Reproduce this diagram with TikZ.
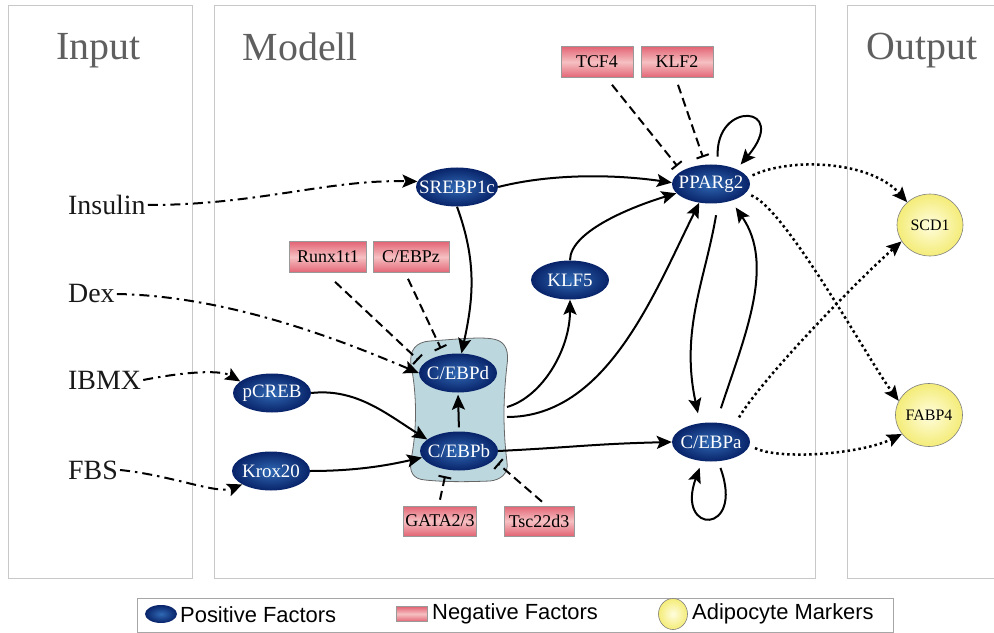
\documentclass[tikz,border=0pt]{standalone}
\usepackage{fontspec}
\setmainfont{Liberation Serif}
\newfontfamily\legfont{Liberation Sans}
\usetikzlibrary{shapes.geometric,arrows.meta}
\definecolor{panelc}{RGB}{200,200,200}
\definecolor{titlegray}{RGB}{95,95,95}
\definecolor{bluein}{RGB}{48,105,180}
\definecolor{blueout}{RGB}{8,35,105}
\definecolor{redout}{RGB}{226,100,116}
\definecolor{redin}{RGB}{246,192,194}
\definecolor{yelin}{RGB}{255,253,222}
\definecolor{yelout}{RGB}{244,236,120}
\definecolor{blobfill}{RGB}{188,215,222}
\begin{document}
\begin{tikzpicture}[x=1bp,y=-1bp,
  panelbox/.style={draw=panelc, line width=1bp},
  titletext/.style={text=titlegray, font=\fontsize{40}{40}\selectfont, anchor=base},
  inlabel/.style={anchor=west, inner sep=2bp, text=black!90, font=\fontsize{28}{28}\selectfont},
  posnode/.style={ellipse, minimum width=78bp, minimum height=39bp, inner xsep=-14bp, inner ysep=-7bp,
    shading=radial, inner color=bluein, outer color=blueout, text=white, font=\fontsize{19}{19}\selectfont},
  negnode/.style={rectangle, minimum width=72bp, minimum height=31bp, inner sep=0,
    top color=redout, bottom color=redout, middle color=redin, draw=gray!80, line width=0.6bp,
    font=\fontsize{18}{18}\selectfont},
  marknode/.style={ellipse, minimum width=66bp, minimum height=62bp, inner sep=0,
    shading=radial, inner color=yelin, outer color=yelout, draw=gray, line width=0.6bp,
    font=\fontsize{16}{16}\selectfont},
  act/.style={line width=2bp, -{Stealth[length=15bp,width=13bp,inset=3bp]}},
  inp/.style={act, dash pattern=on 10bp off 5bp on 2.5bp off 5bp},
  dotarr/.style={act, line width=2.5bp, dash pattern=on 2.5bp off 3bp},
  inh/.style={line width=2bp, dash pattern=on 9bp off 5bp, -{Bar[width=13bp,line width=2bp]}},
  legtext/.style={anchor=west, inner sep=0, font=\legfont\fontsize{22}{22}\selectfont}
]
\useasboundingbox (0,0) rectangle (994,633);
% panels
\draw[panelbox] (8,6) rectangle (192,578);
\draw[panelbox] (214,6) rectangle (815,578);
\draw[panelbox] (847,6) rectangle (1000,578);
\node[titletext] (tin) at (98.5,60) {Input};
\node[titletext] (tmod) at (300.5,61) {Modell};
\node[titletext] (tout) at (922,60) {Output};
% input labels
\node[inlabel] (insulin) at (66,205) {Insulin};
\node[inlabel] (dex) at (66,294) {Dex};
\node[inlabel] (ibmx) at (66,380) {IBMX};
\node[inlabel] (fbs) at (66,470) {FBS};
% blob
\draw[fill=blobfill, draw=gray!80!black, line width=0.8bp]
  (430,341) .. controls (460,339) and (485,336) .. (497,340)
  .. controls (506,343) and (509,352) .. (507,365)
  .. controls (503,400) and (503,430) .. (507,462)
  .. controls (509,474) and (500,480) .. (490,481)
  .. controls (465,482) and (445,482) .. (425,480)
  .. controls (413,479) and (409,472) .. (411,460)
  .. controls (417,430) and (417,395) .. (411,365)
  .. controls (409,350) and (416,342) .. (430,341) -- cycle;
\coordinate (bA) at (507,407);
\coordinate (bB) at (507,417);
% positive factors
\node[posnode, minimum width=82bp] (srebp) at (457,187) {SREBP1c};
\node[posnode] (pparg) at (711,184) {PPARg2};
\node[posnode] (klf5) at (570,280) {KLF5};
\node[posnode] (cebpa) at (711,442) {C/EBPa};
\node[posnode] (cebpd) at (458,373) {C/EBPd};
\node[posnode] (cebpb) at (459,451) {C/EBPb};
\node[posnode] (pcreb) at (272,393) {pCREB};
\node[posnode] (krox) at (271,471) {Krox20};
% markers
\node[marknode] (scd1) at (930,225) {SCD1};
\node[marknode, minimum width=67bp, minimum height=63bp] (fabp4) at (929,415) {FABP4};
% negative factors
\node[negnode] (tcf4) at (597,62) {TCF4};
\node[negnode] (klf2) at (677,62) {KLF2};
\node[negnode, minimum width=77bp] (runx) at (328,257) {Runx1t1};
\node[negnode, minimum width=76bp] (cebpz) at (411,257) {C/EBPz};
\node[negnode, minimum width=73bp, minimum height=30bp] (gata) at (440,521) {GATA2/3};
\node[negnode, minimum width=70bp, minimum height=30bp] (tsc) at (539,521) {Tsc22d3};
% inputs
\draw[inp] (insulin.east) .. controls +(110,0) and +(-90,-2) .. (srebp.172);
\draw[inp] (dex.east) .. controls +(120,2) and +(-60,-25) .. (cebpd.west);
\draw[inp] (ibmx.east) .. controls +(40,-8) and +(-20,-12) .. (pcreb.160);
\draw[inp] (fbs.east) .. controls +(50,5) and +(-25,10) .. (krox.205);
% activations
\draw[act] (pcreb.east) .. controls +(45,-5) and +(-40,-25) .. (cebpb.160);
\draw[act] (krox.east) .. controls +(45,0) and +(-35,8) .. (cebpb.190);
\draw[act] (srebp.south) .. controls +(20,55) and +(12,-55) .. (cebpd.80);
\draw[act] (srebp.east) .. controls +(55,-14) and +(-55,-8) .. (pparg.178);
\draw[act, shorten <=4bp, shorten >=2bp] (cebpb.north) -- (cebpd.south);
\draw[act] (bA) .. controls +(35,-10) and +(0,50) .. (klf5.south);
\draw[act] (bB) .. controls +(100,0) and +(-45,90) .. (pparg.238);
\draw[act] (klf5.north) .. controls +(0,-30) and +(-40,12) .. (pparg.195);
\draw[act] (cebpb.east) .. controls +(80,-4) and +(-80,2) .. (cebpa.west);
\draw[act, shorten <=12bp, shorten >=10bp] (pparg.-70) .. controls +(-13,77) and +(-20,-93) .. (cebpa.120);
\draw[act, shorten <=15bp, shorten >=8bp] (cebpa.75) .. controls +(29,-88) and +(44,64) .. (pparg.-40);
\draw[act, shorten <=8bp, shorten >=6bp] (pparg.70) .. controls +(-3,-65) and +(54,-64) .. (pparg.30);
\draw[act, shorten <=7bp, shorten >=7bp] (cebpa.-70) .. controls +(27,74) and +(-27,74) .. (cebpa.-115);
% outputs
\draw[dotarr, shorten <=5bp] (pparg.10) .. controls +(42,-20) and +(-37,-42) .. (scd1.135);
\draw[dotarr, shorten <=6bp] (pparg.-15) .. controls +(40,15) and +(-30,-40) .. (fabp4.155);
\draw[dotarr, shorten <=10bp] (cebpa.35) .. controls +(30,-50) and +(-40,35) .. (scd1.210);
\draw[dotarr, shorten <=6bp] (cebpa.-5) .. controls +(30,15) and +(-40,20) .. (fabp4.215);
% inhibitions
\draw[inh] ([shift={(15,7)}]tcf4.south) -- ([shift={(-6,-4)}]pparg.north west);
\draw[inh] ([shift={(1,7)}]klf2.south) -- ([shift={(-8,-7)}]pparg.north);
\draw[inh] ([shift={(7,9)}]runx.south) -- ([shift={(-12,1)}]cebpd.north west);
\draw[inh] ([shift={(-3,6)}]cebpz.south) -- ([shift={(-10,-5)}]cebpd.110);
\draw[inh] ([shift={(0,-6)}]gata.north) -- ([shift={(-5,6)}]cebpb.-115);
\draw[inh] ([shift={(3,-4)}]tsc.north) -- ([shift={(10,-1)}]cebpb.-25);
% legend
\draw[draw=gray!70, line width=1bp] (137,598) rectangle (893,632);
\node[posnode, minimum width=32bp, minimum height=18bp] (lgpos) at (161,614) {};
\node[legtext] (lgposT) at (180,615) {Positive Factors};
\node[negnode, minimum width=31bp, minimum height=15bp] (lgneg) at (412,614) {};
\node[legtext] (lgnegT) at (432,614) {Negative Factors};
\node[marknode, minimum width=29bp, minimum height=31bp] (lgmark) at (673,614) {};
\node[legtext] (lgmarkT) at (692,614) {Adipocyte Markers};
\end{tikzpicture}
\end{document}
